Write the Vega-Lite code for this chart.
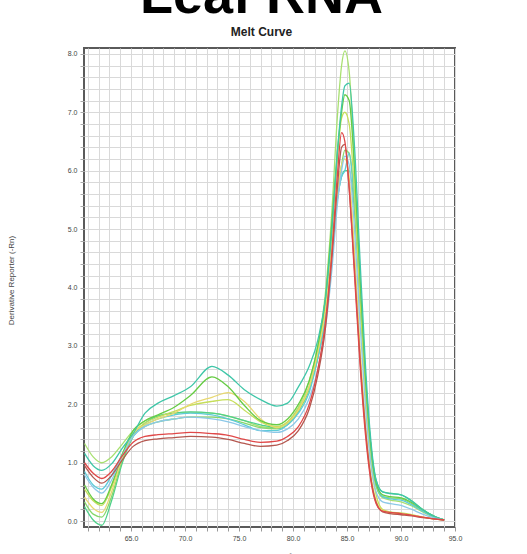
{
"$schema": "https://vega.github.io/schema/vega-lite/v6.json",
"width": 371, "height": 479,
"autosize": {"type": "none"},
"padding": {"left": 84, "top": 48, "right": 72, "bottom": 27},
"background": "white",
"title": {"text": "Leaf RNA", "subtitle": "Melt Curve", "font": "Liberation Sans", "fontSize": 54, "fontWeight": "bold", "color": "#000000", "subtitleFont": "Liberation Sans", "subtitleFontSize": 12, "subtitleFontWeight": "bold", "subtitleColor": "#222222", "anchor": "middle", "offset": 10, "subtitlePadding": 3, "dx": -8},
"config": {"view": {"stroke": "#5a5a5a", "strokeWidth": 2}},
"data": {"values": [
{"c":"LG","t":60.7,"v":1.33},{"c":"LG","t":61.5,"v":1.1},{"c":"LG","t":62.3,"v":1.0},{"c":"LG","t":63.2,"v":1.1},{"c":"LG","t":64.2,"v":1.32},{"c":"LG","t":65.2,"v":1.55},{"c":"LG","t":66.3,"v":1.72},{"c":"LG","t":67.5,"v":1.8},{"c":"LG","t":69,"v":1.85},{"c":"LG","t":70.5,"v":1.86},{"c":"LG","t":72.5,"v":1.85},{"c":"LG","t":74,"v":1.8},{"c":"LG","t":75.5,"v":1.72},{"c":"LG","t":77,"v":1.62},{"c":"LG","t":78.5,"v":1.6},{"c":"LG","t":79.5,"v":1.7},{"c":"LG","t":80.5,"v":1.95},{"c":"LG","t":81.5,"v":2.4},{"c":"LG","t":82.3,"v":3.0},{"c":"LG","t":83,"v":3.9},{"c":"LG","t":83.6,"v":5.3},{"c":"LG","t":84.1,"v":6.9},{"c":"LG","t":84.5,"v":7.8},{"c":"LG","t":84.8,"v":8.05},{"c":"LG","t":85.2,"v":7.7},{"c":"LG","t":85.7,"v":6.1},{"c":"LG","t":86.2,"v":4.1},{"c":"LG","t":86.7,"v":2.4},{"c":"LG","t":87.2,"v":1.2},{"c":"LG","t":87.7,"v":0.6},{"c":"LG","t":88.3,"v":0.4},{"c":"LG","t":89,"v":0.36},{"c":"LG","t":90,"v":0.33},{"c":"LG","t":91,"v":0.26},{"c":"LG","t":92,"v":0.16},{"c":"LG","t":93,"v":0.07},{"c":"LG","t":94,"v":0.02},
{"c":"M","t":60.7,"v":0.25},{"c":"M","t":61.5,"v":0.02},{"c":"M","t":62.3,"v":-0.07},{"c":"M","t":63.2,"v":0.35},{"c":"M","t":64.2,"v":1.0},{"c":"M","t":65.2,"v":1.45},{"c":"M","t":66.3,"v":1.68},{"c":"M","t":67.5,"v":1.8},{"c":"M","t":69,"v":1.85},{"c":"M","t":70.5,"v":1.87},{"c":"M","t":72.5,"v":1.85},{"c":"M","t":74,"v":1.8},{"c":"M","t":75.5,"v":1.72},{"c":"M","t":77,"v":1.65},{"c":"M","t":78.5,"v":1.6},{"c":"M","t":79.5,"v":1.68},{"c":"M","t":80.5,"v":1.9},{"c":"M","t":81.5,"v":2.3},{"c":"M","t":82.3,"v":2.8},{"c":"M","t":83,"v":3.5},{"c":"M","t":83.6,"v":4.6},{"c":"M","t":84.1,"v":5.5},{"c":"M","t":84.5,"v":5.9},{"c":"M","t":84.8,"v":6.0},{"c":"M","t":85.2,"v":6.0},{"c":"M","t":85.7,"v":5.3},{"c":"M","t":86.2,"v":3.8},{"c":"M","t":86.7,"v":2.4},{"c":"M","t":87.2,"v":1.3},{"c":"M","t":87.7,"v":0.7},{"c":"M","t":88.3,"v":0.5},{"c":"M","t":89,"v":0.48},{"c":"M","t":90,"v":0.45},{"c":"M","t":91,"v":0.35},{"c":"M","t":92,"v":0.2},{"c":"M","t":93,"v":0.09},{"c":"M","t":94,"v":0.02},
{"c":"G2","t":60.7,"v":0.33},{"c":"G2","t":61.5,"v":0.12},{"c":"G2","t":62.3,"v":0.07},{"c":"G2","t":63.2,"v":0.42},{"c":"G2","t":64.2,"v":1.05},{"c":"G2","t":65.2,"v":1.45},{"c":"G2","t":66.3,"v":1.62},{"c":"G2","t":67.5,"v":1.7},{"c":"G2","t":69,"v":1.75},{"c":"G2","t":70.5,"v":1.78},{"c":"G2","t":72.5,"v":1.78},{"c":"G2","t":74,"v":1.75},{"c":"G2","t":75.5,"v":1.68},{"c":"G2","t":77,"v":1.6},{"c":"G2","t":78.5,"v":1.58},{"c":"G2","t":79.5,"v":1.65},{"c":"G2","t":80.5,"v":1.88},{"c":"G2","t":81.5,"v":2.25},{"c":"G2","t":82.3,"v":2.8},{"c":"G2","t":83,"v":3.5},{"c":"G2","t":83.6,"v":4.6},{"c":"G2","t":84.1,"v":5.6},{"c":"G2","t":84.5,"v":6.1},{"c":"G2","t":84.8,"v":6.35},{"c":"G2","t":85.2,"v":6.3},{"c":"G2","t":85.7,"v":5.4},{"c":"G2","t":86.2,"v":3.8},{"c":"G2","t":86.7,"v":2.3},{"c":"G2","t":87.2,"v":1.2},{"c":"G2","t":87.7,"v":0.6},{"c":"G2","t":88.3,"v":0.42},{"c":"G2","t":89,"v":0.4},{"c":"G2","t":90,"v":0.38},{"c":"G2","t":91,"v":0.3},{"c":"G2","t":92,"v":0.18},{"c":"G2","t":93,"v":0.08},{"c":"G2","t":94,"v":0.02},
{"c":"C","t":60.7,"v":0.85},{"c":"C","t":61.5,"v":0.62},{"c":"C","t":62.3,"v":0.55},{"c":"C","t":63.2,"v":0.78},{"c":"C","t":64.2,"v":1.15},{"c":"C","t":65.2,"v":1.45},{"c":"C","t":66.3,"v":1.65},{"c":"C","t":67.5,"v":1.75},{"c":"C","t":69,"v":1.82},{"c":"C","t":70.5,"v":1.85},{"c":"C","t":72.5,"v":1.82},{"c":"C","t":74,"v":1.75},{"c":"C","t":75.5,"v":1.65},{"c":"C","t":77,"v":1.55},{"c":"C","t":78.5,"v":1.55},{"c":"C","t":79.5,"v":1.65},{"c":"C","t":80.5,"v":1.85},{"c":"C","t":81.5,"v":2.2},{"c":"C","t":82.3,"v":2.8},{"c":"C","t":83,"v":3.5},{"c":"C","t":83.6,"v":4.7},{"c":"C","t":84.1,"v":5.5},{"c":"C","t":84.5,"v":5.9},{"c":"C","t":84.8,"v":6.0},{"c":"C","t":85.2,"v":6.3},{"c":"C","t":85.7,"v":5.5},{"c":"C","t":86.2,"v":4.0},{"c":"C","t":86.7,"v":2.5},{"c":"C","t":87.2,"v":1.3},{"c":"C","t":87.7,"v":0.65},{"c":"C","t":88.3,"v":0.42},{"c":"C","t":89,"v":0.38},{"c":"C","t":90,"v":0.36},{"c":"C","t":91,"v":0.28},{"c":"C","t":92,"v":0.17},{"c":"C","t":93,"v":0.08},{"c":"C","t":94,"v":0.02},
{"c":"YG","t":60.7,"v":0.55},{"c":"YG","t":61.5,"v":0.35},{"c":"YG","t":62.3,"v":0.27},{"c":"YG","t":63.2,"v":0.58},{"c":"YG","t":64.2,"v":1.12},{"c":"YG","t":65.2,"v":1.5},{"c":"YG","t":66.3,"v":1.68},{"c":"YG","t":67.5,"v":1.78},{"c":"YG","t":69,"v":1.88},{"c":"YG","t":70.5,"v":1.98},{"c":"YG","t":72.5,"v":2.05},{"c":"YG","t":74,"v":2.08},{"c":"YG","t":75.5,"v":1.9},{"c":"YG","t":77,"v":1.7},{"c":"YG","t":78.5,"v":1.62},{"c":"YG","t":79.5,"v":1.7},{"c":"YG","t":80.5,"v":1.92},{"c":"YG","t":81.5,"v":2.3},{"c":"YG","t":82.3,"v":2.9},{"c":"YG","t":83,"v":3.7},{"c":"YG","t":83.6,"v":4.9},{"c":"YG","t":84.1,"v":6.2},{"c":"YG","t":84.5,"v":6.9},{"c":"YG","t":84.8,"v":7.0},{"c":"YG","t":85.2,"v":6.8},{"c":"YG","t":85.7,"v":5.6},{"c":"YG","t":86.2,"v":3.8},{"c":"YG","t":86.7,"v":2.2},{"c":"YG","t":87.2,"v":1.05},{"c":"YG","t":87.7,"v":0.45},{"c":"YG","t":88.3,"v":0.2},{"c":"YG","t":89,"v":0.16},{"c":"YG","t":90,"v":0.14},{"c":"YG","t":91,"v":0.11},{"c":"YG","t":92,"v":0.07},{"c":"YG","t":93,"v":0.04},{"c":"YG","t":94,"v":0.02},
{"c":"Y","t":60.7,"v":0.41},{"c":"Y","t":61.5,"v":0.22},{"c":"Y","t":62.3,"v":0.15},{"c":"Y","t":63.2,"v":0.5},{"c":"Y","t":64.2,"v":1.1},{"c":"Y","t":65.2,"v":1.5},{"c":"Y","t":66.3,"v":1.65},{"c":"Y","t":67.5,"v":1.75},{"c":"Y","t":69,"v":1.85},{"c":"Y","t":70.5,"v":2.0},{"c":"Y","t":72.5,"v":2.12},{"c":"Y","t":74,"v":2.2},{"c":"Y","t":75.5,"v":2.05},{"c":"Y","t":77,"v":1.75},{"c":"Y","t":78.5,"v":1.6},{"c":"Y","t":79.5,"v":1.68},{"c":"Y","t":80.5,"v":1.9},{"c":"Y","t":81.5,"v":2.3},{"c":"Y","t":82.3,"v":2.9},{"c":"Y","t":83,"v":3.6},{"c":"Y","t":83.6,"v":4.7},{"c":"Y","t":84.1,"v":5.6},{"c":"Y","t":84.5,"v":6.1},{"c":"Y","t":84.8,"v":6.2},{"c":"Y","t":85.2,"v":5.9},{"c":"Y","t":85.7,"v":4.6},{"c":"Y","t":86.2,"v":3.0},{"c":"Y","t":86.7,"v":1.7},{"c":"Y","t":87.2,"v":0.8},{"c":"Y","t":87.7,"v":0.35},{"c":"Y","t":88.3,"v":0.18},{"c":"Y","t":89,"v":0.14},{"c":"Y","t":90,"v":0.12},{"c":"Y","t":91,"v":0.1},{"c":"Y","t":92,"v":0.07},{"c":"Y","t":93,"v":0.04},{"c":"Y","t":94,"v":0.02},
{"c":"G1","t":60.7,"v":0.62},{"c":"G1","t":61.5,"v":0.38},{"c":"G1","t":62.3,"v":0.3},{"c":"G1","t":63.2,"v":0.62},{"c":"G1","t":64.2,"v":1.15},{"c":"G1","t":65.2,"v":1.55},{"c":"G1","t":66.3,"v":1.72},{"c":"G1","t":67.5,"v":1.82},{"c":"G1","t":69,"v":1.95},{"c":"G1","t":70.5,"v":2.15},{"c":"G1","t":72.5,"v":2.47},{"c":"G1","t":74,"v":2.3},{"c":"G1","t":75.5,"v":1.98},{"c":"G1","t":77,"v":1.72},{"c":"G1","t":78.5,"v":1.65},{"c":"G1","t":79.5,"v":1.75},{"c":"G1","t":80.5,"v":2.0},{"c":"G1","t":81.5,"v":2.4},{"c":"G1","t":82.3,"v":3.0},{"c":"G1","t":83,"v":3.8},{"c":"G1","t":83.6,"v":5.1},{"c":"G1","t":84.1,"v":6.3},{"c":"G1","t":84.5,"v":7.0},{"c":"G1","t":84.8,"v":7.3},{"c":"G1","t":85.2,"v":7.2},{"c":"G1","t":85.7,"v":6.0},{"c":"G1","t":86.2,"v":4.2},{"c":"G1","t":86.7,"v":2.5},{"c":"G1","t":87.2,"v":1.3},{"c":"G1","t":87.7,"v":0.65},{"c":"G1","t":88.3,"v":0.45},{"c":"G1","t":89,"v":0.42},{"c":"G1","t":90,"v":0.4},{"c":"G1","t":91,"v":0.32},{"c":"G1","t":92,"v":0.2},{"c":"G1","t":93,"v":0.09},{"c":"G1","t":94,"v":0.02},
{"c":"TL","t":60.7,"v":1.16},{"c":"TL","t":61.5,"v":0.95},{"c":"TL","t":62.3,"v":0.87},{"c":"TL","t":63.2,"v":0.98},{"c":"TL","t":64.2,"v":1.25},{"c":"TL","t":65.2,"v":1.5},{"c":"TL","t":66.3,"v":1.85},{"c":"TL","t":67.5,"v":2.02},{"c":"TL","t":69,"v":2.15},{"c":"TL","t":70.5,"v":2.3},{"c":"TL","t":72.5,"v":2.65},{"c":"TL","t":74,"v":2.5},{"c":"TL","t":75.5,"v":2.25},{"c":"TL","t":77,"v":2.08},{"c":"TL","t":78.5,"v":1.97},{"c":"TL","t":79.5,"v":2.02},{"c":"TL","t":80.5,"v":2.3},{"c":"TL","t":81.5,"v":2.65},{"c":"TL","t":82.3,"v":3.1},{"c":"TL","t":83,"v":3.8},{"c":"TL","t":83.6,"v":5.0},{"c":"TL","t":84.1,"v":6.3},{"c":"TL","t":84.5,"v":7.1},{"c":"TL","t":84.8,"v":7.45},{"c":"TL","t":85.2,"v":7.5},{"c":"TL","t":85.7,"v":6.4},{"c":"TL","t":86.2,"v":4.5},{"c":"TL","t":86.7,"v":2.7},{"c":"TL","t":87.2,"v":1.4},{"c":"TL","t":87.7,"v":0.7},{"c":"TL","t":88.3,"v":0.5},{"c":"TL","t":89,"v":0.47},{"c":"TL","t":90,"v":0.45},{"c":"TL","t":91,"v":0.34},{"c":"TL","t":92,"v":0.2},{"c":"TL","t":93,"v":0.09},{"c":"TL","t":94,"v":0.02},
{"c":"LB","t":60.7,"v":0.79},{"c":"LB","t":61.5,"v":0.58},{"c":"LB","t":62.3,"v":0.48},{"c":"LB","t":63.2,"v":0.7},{"c":"LB","t":64.2,"v":1.12},{"c":"LB","t":65.2,"v":1.45},{"c":"LB","t":66.3,"v":1.62},{"c":"LB","t":67.5,"v":1.7},{"c":"LB","t":69,"v":1.75},{"c":"LB","t":70.5,"v":1.78},{"c":"LB","t":72.5,"v":1.75},{"c":"LB","t":74,"v":1.7},{"c":"LB","t":75.5,"v":1.62},{"c":"LB","t":77,"v":1.55},{"c":"LB","t":78.5,"v":1.52},{"c":"LB","t":79.5,"v":1.58},{"c":"LB","t":80.5,"v":1.75},{"c":"LB","t":81.5,"v":2.1},{"c":"LB","t":82.3,"v":2.6},{"c":"LB","t":83,"v":3.3},{"c":"LB","t":83.6,"v":4.3},{"c":"LB","t":84.1,"v":5.4},{"c":"LB","t":84.5,"v":6.0},{"c":"LB","t":84.8,"v":6.25},{"c":"LB","t":85.2,"v":6.1},{"c":"LB","t":85.7,"v":5.0},{"c":"LB","t":86.2,"v":3.4},{"c":"LB","t":86.7,"v":2.0},{"c":"LB","t":87.2,"v":1.0},{"c":"LB","t":87.7,"v":0.5},{"c":"LB","t":88.3,"v":0.33},{"c":"LB","t":89,"v":0.3},{"c":"LB","t":90,"v":0.27},{"c":"LB","t":91,"v":0.2},{"c":"LB","t":92,"v":0.12},{"c":"LB","t":93,"v":0.06},{"c":"LB","t":94,"v":0.02},
{"c":"R2","t":60.7,"v":0.95},{"c":"R2","t":61.5,"v":0.75},{"c":"R2","t":62.3,"v":0.65},{"c":"R2","t":63.2,"v":0.78},{"c":"R2","t":64.2,"v":1.05},{"c":"R2","t":65.2,"v":1.28},{"c":"R2","t":66.3,"v":1.38},{"c":"R2","t":67.5,"v":1.41},{"c":"R2","t":69,"v":1.43},{"c":"R2","t":70.5,"v":1.45},{"c":"R2","t":72.5,"v":1.44},{"c":"R2","t":74,"v":1.4},{"c":"R2","t":75.5,"v":1.33},{"c":"R2","t":77,"v":1.28},{"c":"R2","t":78.5,"v":1.3},{"c":"R2","t":79.5,"v":1.38},{"c":"R2","t":80.5,"v":1.55},{"c":"R2","t":81.5,"v":1.92},{"c":"R2","t":82.3,"v":2.5},{"c":"R2","t":83,"v":3.3},{"c":"R2","t":83.6,"v":4.5},{"c":"R2","t":84.1,"v":5.7},{"c":"R2","t":84.5,"v":6.4},{"c":"R2","t":84.8,"v":6.45},{"c":"R2","t":85.2,"v":5.7},{"c":"R2","t":85.7,"v":4.3},{"c":"R2","t":86.2,"v":2.8},{"c":"R2","t":86.7,"v":1.6},{"c":"R2","t":87.2,"v":0.75},{"c":"R2","t":87.7,"v":0.32},{"c":"R2","t":88.3,"v":0.16},{"c":"R2","t":89,"v":0.13},{"c":"R2","t":90,"v":0.11},{"c":"R2","t":91,"v":0.09},{"c":"R2","t":92,"v":0.06},{"c":"R2","t":93,"v":0.04},{"c":"R2","t":94,"v":0.02},
{"c":"R1","t":60.7,"v":1.0},{"c":"R1","t":61.5,"v":0.82},{"c":"R1","t":62.3,"v":0.73},{"c":"R1","t":63.2,"v":0.85},{"c":"R1","t":64.2,"v":1.12},{"c":"R1","t":65.2,"v":1.35},{"c":"R1","t":66.3,"v":1.45},{"c":"R1","t":67.5,"v":1.48},{"c":"R1","t":69,"v":1.5},{"c":"R1","t":70.5,"v":1.52},{"c":"R1","t":72.5,"v":1.5},{"c":"R1","t":74,"v":1.47},{"c":"R1","t":75.5,"v":1.4},{"c":"R1","t":77,"v":1.35},{"c":"R1","t":78.5,"v":1.37},{"c":"R1","t":79.5,"v":1.45},{"c":"R1","t":80.5,"v":1.62},{"c":"R1","t":81.5,"v":2.0},{"c":"R1","t":82.3,"v":2.6},{"c":"R1","t":83,"v":3.4},{"c":"R1","t":83.6,"v":4.6},{"c":"R1","t":84.1,"v":5.9},{"c":"R1","t":84.5,"v":6.65},{"c":"R1","t":84.8,"v":6.5},{"c":"R1","t":85.2,"v":5.7},{"c":"R1","t":85.7,"v":4.2},{"c":"R1","t":86.2,"v":2.7},{"c":"R1","t":86.7,"v":1.5},{"c":"R1","t":87.2,"v":0.7},{"c":"R1","t":87.7,"v":0.3},{"c":"R1","t":88.3,"v":0.17},{"c":"R1","t":89,"v":0.15},{"c":"R1","t":90,"v":0.13},{"c":"R1","t":91,"v":0.1},{"c":"R1","t":92,"v":0.07},{"c":"R1","t":93,"v":0.04},{"c":"R1","t":94,"v":0.02}
]},
"mark": {"type": "line", "interpolate": "monotone", "strokeWidth": 1.3, "clip": true},
"encoding": {
  "x": {"field": "t", "type": "quantitative", "scale": {"domain": [60.65, 95], "nice": false, "zero": false},
    "axis": {"values": [61,62,63,64,65,66,67,68,69,70,71,72,73,74,75,76,77,78,79,80,81,82,83,84,85,86,87,88,89,90,91,92,93,94,95],
      "labelExpr": "datum.value % 5 === 0 ? format(datum.value, '.1f') : ''",
      "grid": true, "gridColor": "#d9d9d9", "gridWidth": 1, "domain": false, "tickSize": 4, "tickColor": "#999999",
      "labelFont": "Liberation Sans", "labelFontSize": 7, "labelColor": "#444444", "labelPadding": 3, "labelFlush": false, "labelOverlap": false,
      "title": "Temperature (°C)", "titleFont": "Liberation Sans", "titleFontSize": 8, "titleFontWeight": "normal", "titleColor": "#444444", "titleY": 25, "titleBaseline": "top"}},
  "y": {"field": "v", "type": "quantitative", "scale": {"domain": [-0.1, 8.1], "nice": false, "zero": false},
    "axis": {"values": [0,0.2,0.4,0.6,0.8,1,1.2,1.4,1.6,1.8,2,2.2,2.4,2.6,2.8,3,3.2,3.4,3.6,3.8,4,4.2,4.4,4.6,4.8,5,5.2,5.4,5.6,5.8,6,6.2,6.4,6.6,6.8,7,7.2,7.4,7.6,7.8,8],
      "labelExpr": "datum.value % 1 === 0 ? format(datum.value, '.1f') : ''",
      "grid": true, "gridColor": "#d9d9d9", "gridWidth": 1, "domain": false, "tickSize": 4, "tickColor": "#aaaaaa",
      "labelFont": "Liberation Sans", "labelFontSize": 7, "labelColor": "#444444", "labelPadding": 3, "labelOverlap": false,
      "title": "Derivative Reporter (-Rn)", "titleFont": "Liberation Sans", "titleFontSize": 8, "titleFontWeight": "normal", "titleColor": "#444444",
      "titleX": -73, "titleY": 232, "titleAngle": 270, "titleAlign": "center", "titleBaseline": "middle"}},
  "color": {"field": "c", "type": "nominal", "legend": null,
    "scale": {"domain": ["LG","M","G2","C","YG","Y","G1","TL","LB","R2","R1"],
      "range": ["#a8e070","#4fd08a","#86d86c","#5ccbd8","#c6de5a","#e8d870","#66cc44","#3fc6a8","#8cc8e8","#b4574f","#e04848"]}}
}
}
